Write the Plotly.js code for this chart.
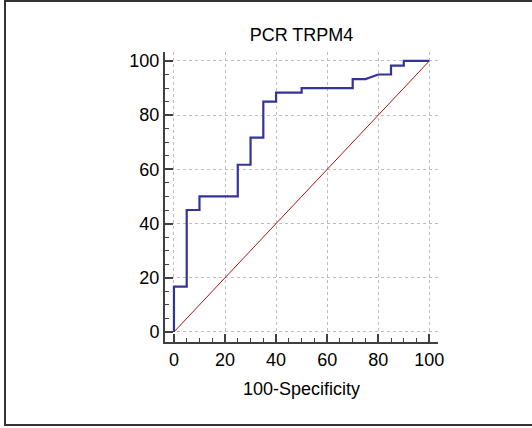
<!DOCTYPE html>
<html>
<head>
<meta charset="utf-8">
<script src="https://cdn.plot.ly/plotly-3.0.1.min.js"></script>
<style>
html,body{margin:0;padding:0;background:#fff;}
#wrap{position:relative;width:532px;height:428px;overflow:hidden;}
#frame{position:absolute;left:4px;top:0px;width:600px;height:422px;border-left:2px solid #333;border-top:2px solid #333;border-bottom:2px solid #333;box-sizing:content-box;pointer-events:none;}
#chart{position:absolute;left:0;top:0;width:532px;height:428px;}
</style>
</head>
<body>
<div id="wrap">
<div id="chart"></div>
<div id="frame"></div>
</div>
<script>
// ROC curve points (100-Specificity, Sensitivity)
var fpr = [0, 0, 5, 5, 10, 10, 25, 25, 30, 30, 35, 35, 40, 40, 50, 50, 70, 70, 75, 80, 85, 85, 90, 90, 100];
var tpr = [0, 16.7, 16.7, 45, 45, 50, 50, 61.7, 61.7, 71.7, 71.7, 85, 85, 88.3, 88.3, 90, 90, 93.3, 93.3, 95, 95, 98.3, 98.3, 100, 100];
// reference diagonal
var diagX = [0, 100];
var diagY = [0, 100];
var tickVals = [0, 20, 40, 60, 80, 100];
var tickText = ['0', '20', '40', '60', '80', '100'];

var font = 'Arial, "Liberation Sans", sans-serif';
var axisCommon = {
  tickvals: tickVals,
  ticktext: tickText,
  showline: true,
  linecolor: '#404040',
  linewidth: 2,
  ticks: 'inside',
  ticklen: 8,
  tickwidth: 2,
  tickcolor: '#404040',
  showgrid: true,
  gridcolor: '#bdbdbd',
  griddash: 'dot',
  gridwidth: 1,
  zeroline: false,
  minor: {dtick: 5, tick0: 0, ticks: 'inside', ticklen: 4, tickwidth: 1, tickcolor: '#404040', showgrid: false},
  tickfont: {family: font, size: 18, color: '#000'},
  fixedrange: true
};

var data = [
  {x: diagX, y: diagY, mode: 'lines', line: {color: '#b01010', width: 1}, hoverinfo: 'skip', showlegend: false},
  {x: fpr, y: tpr, mode: 'lines', line: {color: '#33339a', width: 2.2}, showlegend: false}
];

var layout = {
  width: 532,
  height: 428,
  margin: {l: 165, r: 94, t: 52, b: 86, pad: 0},
  paper_bgcolor: '#fff',
  plot_bgcolor: '#fff',
  title: {text: 'PCR TRPM4', font: {family: font, size: 18, color: '#000'}, x: 0.5, xref: 'paper', xanchor: 'center', y: 1 - 34.5/428, yref: 'container', yanchor: 'middle'},
  xaxis: Object.assign({}, axisCommon, {range: [-3.5, 103.4], title: {text: '100-Specificity', font: {family: font, size: 18, color: '#000'}, standoff: 14}}),
  yaxis: Object.assign({}, axisCommon, {range: [-3.7, 103.3]}),
  showlegend: false
};

Plotly.newPlot('chart', data, layout, {displayModeBar: false, staticPlot: true});
</script>
</body>
</html>
